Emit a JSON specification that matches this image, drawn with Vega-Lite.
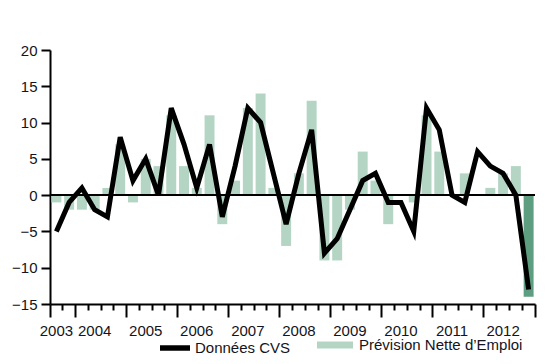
{
  "$schema": "https://vega.github.io/schema/vega-lite/v6.json",
  "width": 485,
  "height": 254,
  "autosize": {"type": "none"},
  "padding": {"left": 50, "top": 50, "right": 15, "bottom": 60},
  "background": "#ffffff",
  "config": {
    "view": {"stroke": null},
    "font": "Liberation Sans",
    "axis": {
      "labelFont": "Liberation Sans",
      "labelFontSize": 15,
      "labelColor": "#141420",
      "domainColor": "#000000",
      "tickColor": "#000000",
      "grid": false,
      "title": null
    },
    "axisY": {
      "domainWidth": 2,
      "tickWidth": 2,
      "tickSize": 9,
      "labelPadding": 4,
      "labelOverlap": false,
      "labelFlush": false,
      "labelBound": false,
      "tickCount": 8
    },
    "legend": {
      "labelFont": "Liberation Sans",
      "labelFontSize": 15,
      "labelColor": "#141420",
      "labelLimit": 0,
      "padding": 0,
      "title": null
    }
  },
  "data": {
    "values": [
      {"q": "2003T3", "cvs": -5, "prevision": -1},
      {"q": "2003T4", "cvs": -1, "prevision": -2},
      {"q": "2004T1", "cvs": 1, "prevision": -2},
      {"q": "2004T2", "cvs": -2, "prevision": -2},
      {"q": "2004T3", "cvs": -3, "prevision": 1},
      {"q": "2004T4", "cvs": 8, "prevision": 7},
      {"q": "2005T1", "cvs": 2, "prevision": -1},
      {"q": "2005T2", "cvs": 5, "prevision": 5},
      {"q": "2005T3", "cvs": 0, "prevision": 4},
      {"q": "2005T4", "cvs": 12, "prevision": 11},
      {"q": "2006T1", "cvs": 7, "prevision": 4},
      {"q": "2006T2", "cvs": 1, "prevision": 1},
      {"q": "2006T3", "cvs": 7, "prevision": 11},
      {"q": "2006T4", "cvs": -3, "prevision": -4},
      {"q": "2007T1", "cvs": 4, "prevision": 2},
      {"q": "2007T2", "cvs": 12, "prevision": 12},
      {"q": "2007T3", "cvs": 10, "prevision": 14},
      {"q": "2007T4", "cvs": 3, "prevision": 1},
      {"q": "2008T1", "cvs": -4, "prevision": -7},
      {"q": "2008T2", "cvs": 3, "prevision": 3},
      {"q": "2008T3", "cvs": 9, "prevision": 13},
      {"q": "2008T4", "cvs": -8, "prevision": -9},
      {"q": "2009T1", "cvs": -6, "prevision": -9},
      {"q": "2009T2", "cvs": -2, "prevision": -2},
      {"q": "2009T3", "cvs": 2, "prevision": 6},
      {"q": "2009T4", "cvs": 3, "prevision": 2},
      {"q": "2010T1", "cvs": -1, "prevision": -4},
      {"q": "2010T2", "cvs": -1, "prevision": 0},
      {"q": "2010T3", "cvs": -5, "prevision": -1},
      {"q": "2010T4", "cvs": 12, "prevision": 11},
      {"q": "2011T1", "cvs": 9, "prevision": 6},
      {"q": "2011T2", "cvs": 0, "prevision": 0},
      {"q": "2011T3", "cvs": -1, "prevision": 3},
      {"q": "2011T4", "cvs": 6, "prevision": 0},
      {"q": "2012T1", "cvs": 4, "prevision": 1},
      {"q": "2012T2", "cvs": 3, "prevision": 3},
      {"q": "2012T3", "cvs": 0, "prevision": 4},
      {"q": "2012T4", "cvs": -13, "prevision": -14}
    ]
  },
  "layer": [
    {
      "mark": {"type": "bar", "width": {"band": 0.78}},
      "encoding": {
        "x": {
          "field": "q",
          "type": "ordinal",
          "sort": null,
          "scale": {"type": "band", "paddingInner": 0, "paddingOuter": 0},
          "axis": {
            "orient": "bottom",
            "bandPosition": 1,
            "values": ["2003T3", "2004T2", "2005T2", "2006T2", "2007T2", "2008T2", "2009T2", "2010T2", "2011T2", "2012T2", "2012T4"],
            "labelExpr": "datum.value === '2012T4' ? '' : slice(datum.value, 0, 4)",
            "domain": false,
            "ticks": true,
            "tickSize": 13,
            "tickWidth": 2,
            "tickOpacity": {"condition": {"test": "datum.value === '2012T4'", "value": 1}, "value": 0},
            "labelPadding": 6,
            "labelAngle": 0,
            "labelAlign": "center",
            "labelOverlap": false,
            "labelBound": false,
            "labelFlush": false
          }
        },
        "y": {
          "field": "prevision",
          "type": "quantitative",
          "scale": {"domain": [-15, 20], "nice": false, "zero": false},
          "axis": {
            "values": [-15, -10, -5, 0, 5, 10, 15, 20],
            "labelOverlap": false
          }
        },
        "fill": {
          "datum": "Prévision Nette d’Emploi",
          "scale": {"range": ["#b4d5c4"]},
          "condition": {"test": "datum.q === '2012T4'", "value": "#5e9e80"},
          "legend": {
            "orient": "none",
            "legendX": 267,
            "legendY": 277,
            "symbolType": "M-1,-0.19H1V0.19H-1Z",
            "symbolSize": 1296,
            "symbolStrokeWidth": 0,
            "labelOffset": 6
          }
        }
      }
    },
    {
      "mark": {"type": "rule", "color": "#000000", "strokeWidth": 1.6},
      "encoding": {
        "y": {"datum": 0, "type": "quantitative", "axis": {"values": [-15, -10, -5, 0, 5, 10, 15, 20], "labelOverlap": false}}
      }
    },
    {
      "mark": {"type": "line", "strokeWidth": 5, "strokeJoin": "miter", "strokeCap": "butt"},
      "encoding": {
        "x": {
          "field": "q",
          "type": "ordinal",
          "sort": null,
          "axis": {
            "orient": "bottom",
            "bandPosition": 0,
            "labels": false,
            "domain": true,
            "domainWidth": 2,
            "ticks": true,
            "tickWidth": 2,
            "tickSize": {"condition": {"test": "datum.value === '2003T3' || slice(datum.value, 4) === 'T1'", "value": 13}, "value": 6}
          }
        },
        "y": {
          "field": "cvs",
          "type": "quantitative",
          "axis": {"values": [-15, -10, -5, 0, 5, 10, 15, 20], "labelOverlap": false}
        },
        "stroke": {
          "datum": "Données CVS",
          "scale": {"range": ["#000000"]},
          "legend": {
            "orient": "none",
            "legendX": 107,
            "legendY": 280,
            "symbolType": "stroke",
            "symbolSize": 900,
            "symbolStrokeWidth": 5.5,
            "labelOffset": 2
          }
        }
      }
    }
  ],
  "resolve": {"axis": {"x": "independent"}, "scale": {"fill": "independent", "stroke": "independent"}}
}
